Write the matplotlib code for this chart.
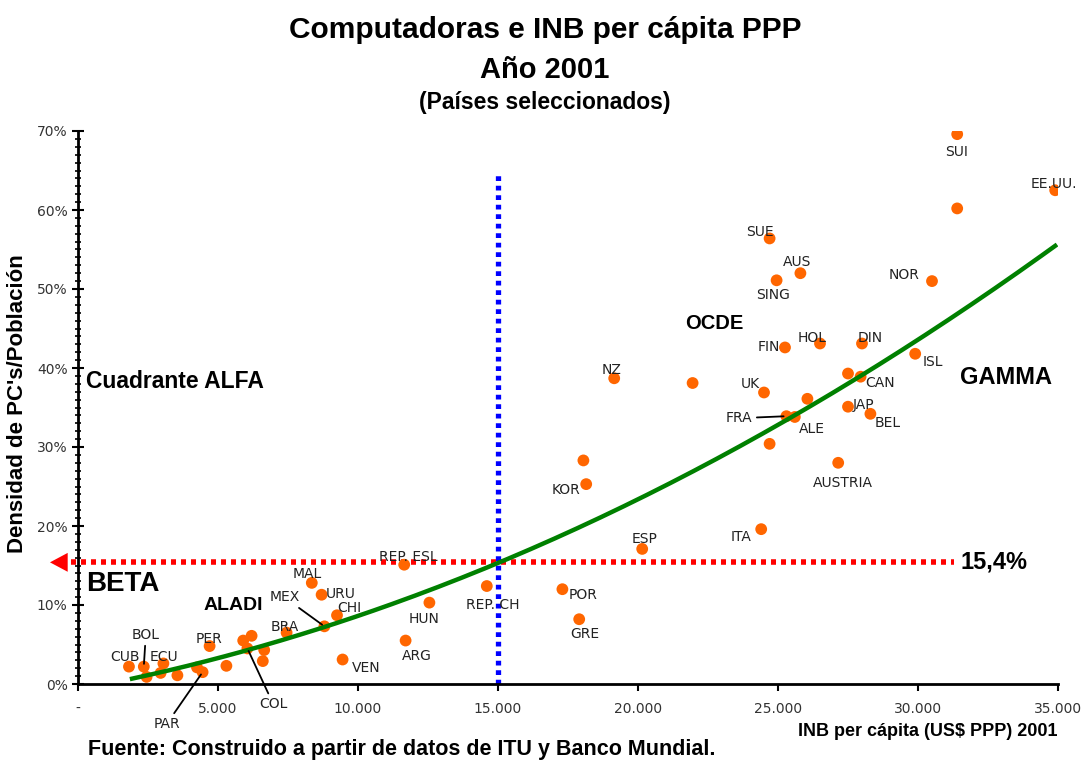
import numpy as np
import matplotlib
matplotlib.use('Agg')
from matplotlib import pyplot as plt
from matplotlib.ticker import FuncFormatter, MultipleLocator

# datos: INB per capita (US$ PPP) y densidad de PCs (%)
paises = ['SUI', 'EE.UU.', '', 'SUE', 'AUS', 'SING', 'NOR', 'FIN', 'HOL', 'DIN',
          'ISL', 'CAN', '', 'NZ', '', 'UK', '', 'JAP', 'BEL', 'FRA', 'ALE', '',
          'AUSTRIA', '', 'KOR', 'ITA', 'ESP', 'REP. ESL', 'REP. CH', 'POR', 'GRE',
          'HUN', 'ARG', 'VEN', 'MAL', 'URU', 'CHI', 'MEX', 'BRA', '', '', 'COL',
          '', '', 'PER', '', 'PAR', '', 'ECU', '', '', 'BOL', '', 'CUB']
inb = [31400, 34900, 31400, 24700, 25800, 24950, 30500, 25250, 26500, 28000,
       29900, 27950, 27500, 19150, 21950, 24500, 26050, 27500, 28300, 25300, 25600, 24700,
       27150, 18050, 18150, 24400, 20150, 11650, 14600, 17300, 17900,
       12550, 11700, 9450, 8350, 8700, 9250, 8800, 7450, 5900, 6200, 6050,
       6650, 6600, 4700, 5300, 4450, 4250, 3050, 3550, 2950, 2350, 2450, 1820]
pcs = [69.6, 62.5, 60.2, 56.4, 52.0, 51.1, 51.0, 42.6, 43.1, 43.1,
       41.8, 38.9, 39.3, 38.7, 38.1, 36.9, 36.1, 35.1, 34.2, 33.9, 33.8, 30.4,
       28.0, 28.3, 25.3, 19.6, 17.1, 15.1, 12.4, 12.0, 8.2,
       10.3, 5.5, 3.1, 12.8, 11.3, 8.7, 7.3, 6.5, 5.5, 6.1, 4.5,
       4.3, 2.9, 4.8, 2.3, 1.5, 2.1, 2.6, 1.1, 1.4, 2.2, 0.9, 2.2]

# tendencia polinomica (% vs miles de US$)
tendencia = [0.0272, 0.66, -0.7]

umbral_inb = 15000
umbral_pcs = 15.4

# posicion de etiquetas en pixeles respecto al punto
offs = {'SUI': (-1, 18), 'EE.UU.': (-1, -6), 'SUE': (-10, -6), 'AUS': (-3, -11),
        'SING': (-4, 15), 'NOR': (-28, -6), 'FIN': (-16, 0), 'HOL': (-8, -6),
        'DIN': (8, -6), 'ISL': (18, 8), 'CAN': (19, 6), 'NZ': (-3, -8),
        'UK': (-14, -8), 'JAP': (16, -2), 'BEL': (17, 9), 'FRA': (-47, 2),
        'ALE': (17, 12), 'AUSTRIA': (5, 20), 'KOR': (-20, 6), 'ITA': (-20, 8),
        'ESP': (2, -10), 'REP. ESL': (4, -8), 'REP. CH': (6, 19), 'POR': (21, 6),
        'GRE': (6, 15), 'HUN': (-5, 16), 'ARG': (11, 15), 'VEN': (24, 8),
        'MAL': (-5, -9), 'URU': (19, -1), 'CHI': (12, -7), 'MEX': (-40, -29),
        'BRA': (-2, -6), 'COL': (26, 56), 'PER': (-1, -7), 'PAR': (-36, 52),
        'ECU': (1, -6), 'BOL': (2, -32), 'CUB': (-4, -10)}
lineas = ['FRA', 'MEX', 'COL', 'PAR', 'BOL']

plt.rcParams['font.family'] = ['DejaVu Sans']
fig = plt.figure(figsize=(10.85, 7.6), dpi=100)
ax = fig.add_axes([78/1085, 1-684/760, (1058-78)/1085, (684-131)/760])

x = np.array(inb)
y = np.array(pcs) / 100

ax.scatter(x, y, s=72, color='#FF6600', edgecolor='none', zorder=3)

xt = np.linspace(1930, x.max(), 200)
ax.plot(xt, np.polyval(tendencia, xt / 1000) / 100, color='#008000', lw=3.2, zorder=4)

ax.plot([umbral_inb, umbral_inb], [0, 0.648], color='#0000FF', lw=3.8,
        ls=(0, (0.9, 0.9)), zorder=2)
ax.plot([-600, 31300], [umbral_pcs/100]*2, color='#FF0000', lw=4,
        ls=(0, (0.9, 0.9)), zorder=2, clip_on=False)
ax.annotate('', xy=(-1100, umbral_pcs/100), xytext=(300, umbral_pcs/100),
            arrowprops=dict(arrowstyle='-|>,head_length=0.75,head_width=0.4',
                            mutation_scale=17, color='#FF0000', lw=0),
            annotation_clip=False)
ax.text(31500, umbral_pcs/100, '15,4%', fontsize=17, fontweight='bold',
        family='Liberation Sans', va='center', ha='left')

for p, xi, yi in zip(paises, x, y):
    if not p:
        continue
    dx, dy = offs[p]
    ap = None
    if p in lineas:
        ap = dict(arrowstyle='-', color='black', lw=1.3, shrinkA=1, shrinkB=2)
    ax.annotate(p, (xi, yi), xytext=(dx, -dy), textcoords='offset pixels',
                ha='center', va='center', fontsize=10, color='#222222',
                arrowprops=ap, zorder=5, annotation_clip=False)

bold = dict(fontweight='bold', family='Liberation Sans', color='black')
ax.text(300, 0.383, 'Cuadrante ALFA', fontsize=16.5, va='center', **bold)
ax.text(300, 0.127, 'BETA', fontsize=20, va='center', **bold)
ax.text(4500, 0.099, 'ALADI', fontsize=14, va='center', **bold)
ax.text(21700, 0.456, 'OCDE', fontsize=14.5, va='center', **bold)
ax.text(31500, 0.388, 'GAMMA', fontsize=17, va='center', **bold)

ax.set_xlim(0, 35000)
ax.set_ylim(0, 0.70)
ax.xaxis.set_major_locator(MultipleLocator(5000))
ax.yaxis.set_major_locator(MultipleLocator(0.1))
ax.yaxis.set_minor_locator(MultipleLocator(0.01))
ax.xaxis.set_major_formatter(FuncFormatter(
    lambda v, pos: '-' if v == 0 else f'{int(v):,}'.replace(',', '.')))
ax.yaxis.set_major_formatter(FuncFormatter(lambda v, pos: f'{v*100:.0f}%'))
ax.tick_params(axis='x', direction='out', length=5, width=1.5, labelsize=10,
               pad=8, labelcolor='#333333')
ax.tick_params(axis='y', which='major', direction='inout', length=8, width=1.5,
               labelsize=10, labelcolor='#333333')
ax.tick_params(axis='y', which='minor', direction='inout', length=5, width=1.2)
for s in ['top', 'right']:
    ax.spines[s].set_visible(False)
for s in ['left', 'bottom']:
    ax.spines[s].set_linewidth(2)

fig.text(545/1085, 1-30/760, 'Computadoras e INB per cápita PPP', ha='center',
         va='center', fontsize=21.5, **bold)
fig.text(545/1085, 1-70/760, 'Año 2001', ha='center', va='center',
         fontsize=21, **bold)
fig.text(545/1085, 1-103/760, '(Países seleccionados)', ha='center',
         va='center', fontsize=16.5, **bold)
fig.text(18/1085, 1-404/760, "Densidad de PC's/Población", rotation=90,
         ha='center', va='center', fontsize=16, **bold)
fig.text(1058/1085, 1-732/760, 'INB per cápita (US$ PPP) 2001', ha='right',
         va='center', fontsize=13, **bold)
fig.text(88/1085, 1-750/760, 'Fuente: Construido a partir de datos de ITU y Banco Mundial.',
         ha='left', va='center', fontsize=15.5, **bold)

plt.savefig('out.png', dpi=100)
